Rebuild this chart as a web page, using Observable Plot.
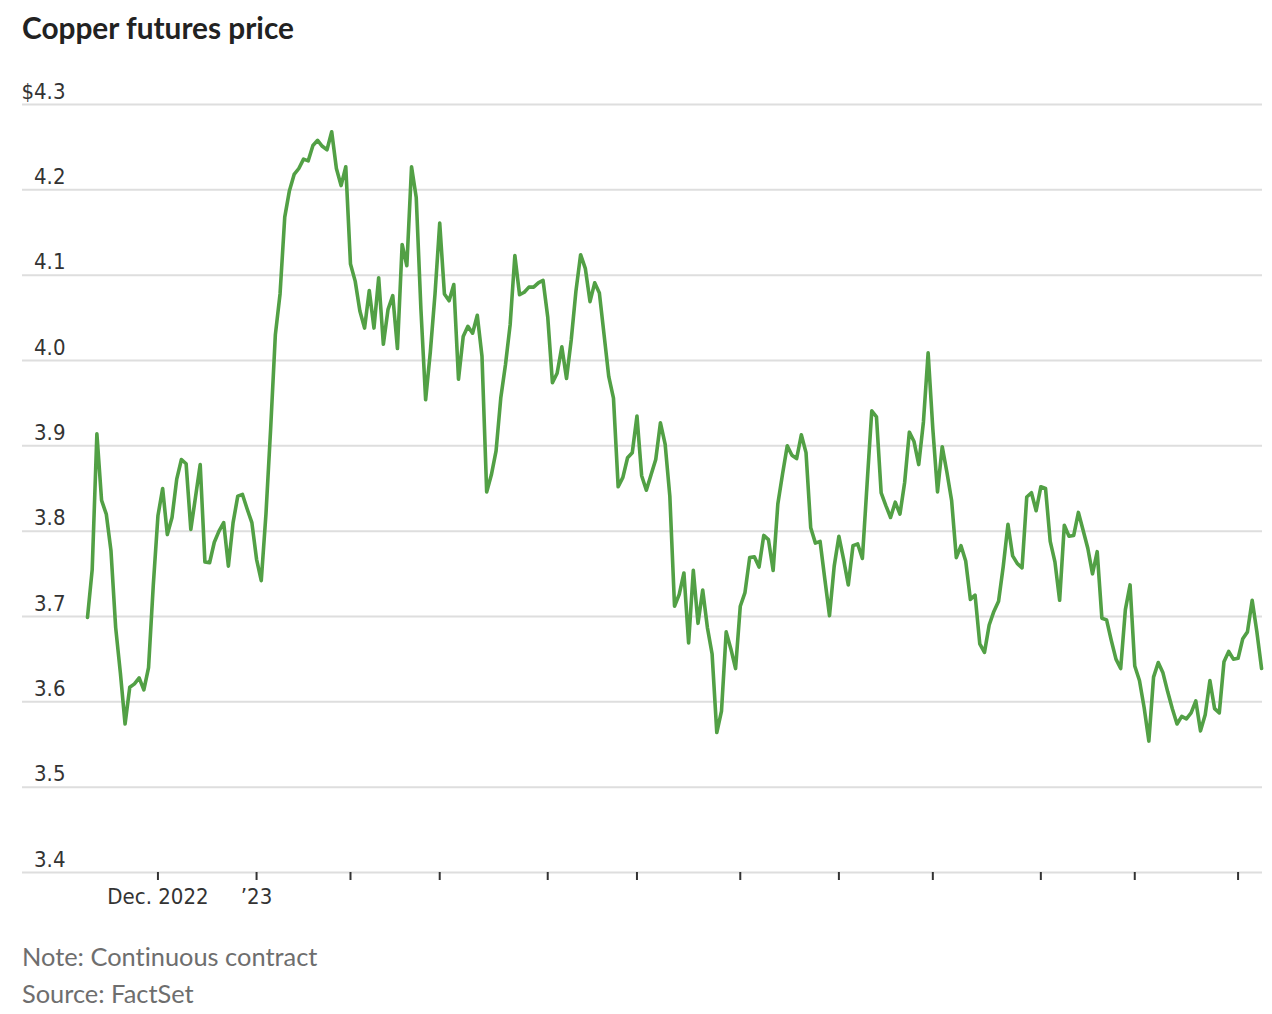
<!DOCTYPE html>
<html><head><meta charset="utf-8">
<script src="https://cdn.jsdelivr.net/npm/d3@7"></script>
<script src="https://cdn.jsdelivr.net/npm/@observablehq/plot@0.6"></script>
<style>
body{margin:0;background:#fff;}
#wrap{position:relative;width:1272px;height:1014px;}
#title{position:absolute;left:22px;top:10px;font:700 29.8px Lato, sans-serif;font-variant-ligatures:none;color:#222;white-space:nowrap;}
#chart{position:absolute;left:0;top:60px;}
.cap{position:absolute;left:22px;font:400 25.4px Lato, sans-serif;font-variant-ligatures:none;font-feature-settings:"liga" 0;color:#6e6e6e;white-space:nowrap;}
#chart svg text{font-stretch:condensed;}
</style></head>
<body>
<div id="wrap">
<div id="title">Copper futures price</div>
<div id="chart"></div>
<div class="cap" style="top:941px">Note: Continuous contract</div>
<div class="cap" style="top:978px">Source: FactSet</div>
</div>
<script>
// Copper futures price (continuous contract), one value per trading day, ~Nov 2022 - Nov 2023
const prices = [
3.699,3.755,3.914,3.836,3.820,3.777,3.687,3.634,3.574,3.617,
3.621,3.628,3.614,3.640,3.736,3.818,3.850,3.796,3.816,3.861,
3.884,3.879,3.802,3.840,3.878,3.764,3.763,3.787,3.800,3.810,
3.759,3.810,3.841,3.843,3.826,3.810,3.767,3.742,3.820,3.920,
4.030,4.078,4.168,4.199,4.218,4.225,4.236,4.234,4.252,4.258,
4.251,4.247,4.268,4.225,4.205,4.227,4.113,4.093,4.058,4.038,
4.082,4.038,4.097,4.019,4.060,4.076,4.014,4.136,4.111,4.227,
4.191,4.060,3.954,4.010,4.078,4.161,4.078,4.070,4.089,3.978,
4.028,4.040,4.032,4.053,4.005,3.846,3.866,3.894,3.956,3.995,
4.042,4.123,4.077,4.080,4.086,4.086,4.091,4.094,4.051,3.974,
3.985,4.016,3.979,4.024,4.081,4.124,4.108,4.069,4.091,4.079,
4.030,3.981,3.956,3.852,3.863,3.886,3.892,3.935,3.865,3.848,
3.866,3.884,3.927,3.902,3.841,3.712,3.726,3.751,3.669,3.754,
3.692,3.731,3.687,3.656,3.564,3.589,3.682,3.662,3.639,3.712,
3.728,3.769,3.770,3.758,3.795,3.790,3.754,3.832,3.867,3.900,
3.889,3.885,3.913,3.892,3.804,3.786,3.788,3.744,3.701,3.759,
3.794,3.767,3.737,3.783,3.785,3.768,3.855,3.941,3.934,3.845,
3.830,3.816,3.834,3.820,3.857,3.916,3.905,3.878,3.928,4.009,
3.920,3.846,3.899,3.869,3.836,3.769,3.783,3.765,3.720,3.725,
3.668,3.658,3.690,3.706,3.718,3.759,3.808,3.771,3.762,3.757,
3.840,3.845,3.824,3.852,3.850,3.788,3.764,3.719,3.807,3.794,
3.795,3.822,3.801,3.780,3.750,3.776,3.698,3.696,3.672,3.650,
3.639,3.708,3.737,3.642,3.625,3.593,3.554,3.629,3.646,3.634,
3.612,3.592,3.574,3.583,3.580,3.587,3.601,3.566,3.585,3.625,
3.592,3.587,3.647,3.659,3.650,3.651,3.674,3.682,3.719,3.682,
3.639
];
// trading-day index of the first session of each month (Dec 2022 ... Nov 2023)
const monthTickIndex = [15, 36, 56, 75, 98, 117, 139, 160, 180, 203, 223, 245];
const monthTickLabels = ["Dec. 2022", "\u201923", "", "", "", "", "", "", "", "", "", ""];
const yTicks = [3.4, 3.5, 3.6, 3.7, 3.8, 3.9, 4.0, 4.1, 4.2, 4.3];
const yTopLabel = "$4.3";

const data = prices.map((v, i) => ({i, v}));
const labelOf = new Map(monthTickIndex.map((d, k) => [d, monthTickLabels[k]]));

const chart = Plot.plot({
  width: 1272,
  height: 860,
  marginLeft: 22,
  marginRight: 10,
  marginTop: 44,
  marginBottom: 48,
  x: {domain: [-13.84, 250.2]},
  y: {domain: [3.4, 4.3]},
  style: {
    fontFamily: "'DejaVu Sans Condensed', 'DejaVu Sans', sans-serif",
    fontSize: "22px",
    color: "#333",
    background: "white",
    overflow: "visible"
  },
  marks: [
    Plot.ruleY(yTicks, {stroke: "#dedede", strokeWidth: 2}),
    Plot.axisY({
      ticks: yTicks, tickSize: 0, tickPadding: 0, dx: 43, dy: -13,
      textAnchor: "end", label: null,
      tickFormat: d => d === 4.3 ? yTopLabel : d.toFixed(1)
    }),
    Plot.axisX({
      ticks: monthTickIndex, tickSize: 8, tickPadding: 8, label: null,
      stroke: "#333", strokeWidth: 2,
      tickFormat: d => labelOf.get(d) ?? ""
    }),
    Plot.line(data, {x: "i", y: "v", stroke: "#52a045", strokeWidth: 3.6, strokeLinejoin: "round"})
  ]
});
document.getElementById("chart").appendChild(chart);
</script>
</body></html>
